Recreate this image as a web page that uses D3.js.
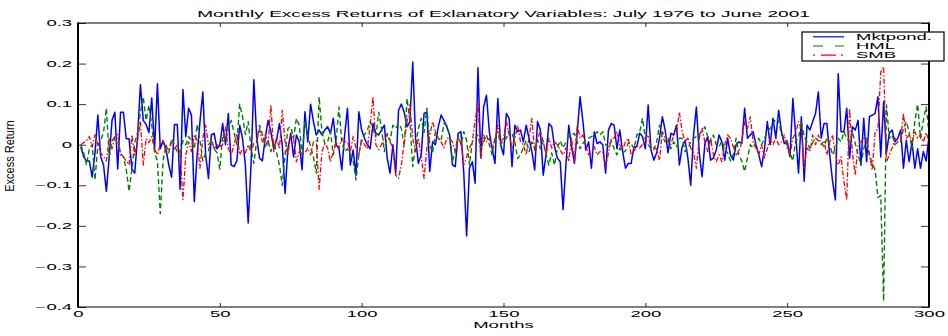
<!DOCTYPE html>
<html><head><meta charset="utf-8">
<script src="https://cdn.jsdelivr.net/npm/d3@7"></script>
<style>body{margin:0;background:#fff}</style>
</head><body>
<svg id="c" width="948" height="336"></svg>
<script>
const months = d3.range(1, 301);
const mkt = [
-0.005,-0.03,-0.04,-0.04,-0.08,-0.02,0.073,-0.03,-0.05,-0.115,
-0.03,0.06,0.08,-0.06,0.08,0.08,0.015,0.015,-0.06,-0.07,
0.02,0.148,0.06,0.05,0.03,0.115,-0.01,0.15,-0.01,0.01,
-0.01,-0.05,-0.08,0.05,0.05,-0.11,0.136,0.02,0.09,0.073,
-0.14,-0.025,0.057,0.13,-0.025,-0.083,0.024,0.028,-0.01,0,
0.052,0,0.077,-0.05,-0.054,-0.04,0.048,0.016,-0.05,-0.193,
-0.05,0.16,0.016,-0.033,-0.04,0.016,0.06,0.032,-0.01,0.012,
0.052,0,-0.12,-0.01,0.028,-0.03,0.024,0.007,-0.062,0.081,
0.007,0.1,0.057,0.024,0.036,0.024,0.036,0.044,0.028,0.065,
0,-0.01,-0.062,0.024,0.09,-0.05,-0.013,-0.075,0.081,0.036,
0.016,0,-0.01,0.052,0.028,0.024,0.036,0.048,-0.033,-0.07,
0,-0.07,0.085,0.1,0.08,0.044,0.057,0.204,0.016,-0.046,
-0.025,0.077,0.081,-0.066,0.007,0,0.044,0.073,0.06,0.044,
0.024,-0.05,-0.054,0.028,0.032,-0.07,-0.225,-0.058,-0.042,-0.095,
0.19,-0.033,0.093,0.122,0.032,-0.01,-0.046,0.114,0,-0.025,
0.077,0.065,-0.054,0.048,0.032,0.036,0.007,0.048,0.016,-0.017,
-0.062,0.057,0.036,-0.075,-0.025,0.052,0.044,-0.005,-0.033,-0.042,
-0.16,-0.05,0.048,-0.005,-0.046,0.032,0.118,0.057,-0.013,0.007,
-0.058,0.032,0.003,0.007,0,-0.07,0.036,0.052,0.048,-0.01,
0.036,-0.017,-0.058,-0.046,-0.046,-0.005,-0.005,0.028,0.02,-0.01,
0.098,-0.013,-0.038,-0.02,0.016,0.069,0.036,-0.02,0.028,0.024,
0.048,-0.05,-0.005,0.011,-0.033,-0.1,0.024,0.093,-0.02,-0.079,
0.003,0.02,-0.038,-0.033,-0.013,0.024,0.007,-0.038,0.016,-0.025,
-0.038,0,0.007,0.003,0.09,0.016,0.024,0.032,0,-0.025,
-0.054,-0.01,0.057,0,0.065,0.016,0.085,0.032,0.003,0.007,
-0.03,0.114,0.024,-0.07,0.069,-0.09,0.048,0.036,0.057,0.077,
0.13,0.016,0.052,0.052,-0.025,-0.09,-0.136,0.175,0.032,0.032,
0.09,-0.033,0.044,0.036,0.06,-0.05,0.065,-0.042,0.069,0.073,
0.077,0.118,-0.03,0.106,-0.02,0.028,0.036,0.007,0.016,0.036,
-0.058,0.011,-0.042,0.007,-0.058,-0.01,-0.058,-0.017,-0.04,0.02
];
const hml = [
0,-0.02,-0.05,-0.01,0,-0.087,0,0.01,0.03,0.09,
-0.03,0.01,0.02,0,-0.02,-0.03,-0.06,-0.115,-0.06,0.005,
0.03,0.08,0.118,0.06,0.097,0.05,-0.02,-0.04,-0.17,-0.04,
0,-0.02,0.015,0,-0.02,-0.03,0.01,0,0.02,0.01,
-0.01,0.05,0.01,-0.04,-0.02,-0.015,0.015,-0.01,-0.02,-0.06,
0.025,0.01,0.035,0.06,0.03,0,0.1,0.07,0.025,0.057,
-0.01,-0.046,0.01,0.048,0.025,-0.005,0.01,-0.017,0.008,-0.02,
-0.05,-0.1,-0.025,0.04,0.044,0.016,0.065,0.048,-0.025,0.057,
0.024,-0.005,-0.03,-0.07,0.118,0.032,0.003,0.007,0.032,-0.025,
0.01,0.093,0.007,-0.017,-0.01,-0.025,-0.04,-0.087,-0.025,0.016,
0.024,0.036,0.057,0.04,0.02,0.08,0.04,-0.017,0.028,0.01,
0.048,0.04,0.052,0.04,-0.005,0.114,0.057,-0.054,0,0.04,
0.065,0.03,0.09,0,-0.02,0.032,0.016,0.01,0.052,0.048,
0.024,-0.04,-0.017,0.024,0,0.032,0.01,-0.05,0.007,0.016,
0.024,-0.008,0.007,0.024,0,-0.025,0.02,0.032,0,0.01,
0.016,0.036,0.028,0.007,-0.034,-0.025,-0.008,0.01,-0.017,0.007,
-0.008,0.012,-0.01,0.01,-0.025,-0.05,-0.02,-0.05,-0.008,0.01,
-0.008,0.007,0.02,0.024,0.028,0.007,-0.01,0.003,0.012,0.016,
0.02,0.024,0.032,0.024,0.032,0,-0.005,0.01,-0.01,-0.025,
-0.008,-0.02,-0.015,0.005,0.003,-0.01,0.024,0.03,0.065,0.016,
0,-0.01,-0.013,0.007,0.048,0.02,0.007,0.016,-0.01,0.007,
-0.005,0.016,0.016,-0.017,-0.01,0.007,0.016,0.02,0.024,0.035,
0.044,0.02,0.007,0.024,0,-0.005,0.01,-0.012,-0.02,-0.04,
-0.025,0.016,-0.025,-0.04,-0.066,-0.033,0,-0.008,0.007,0.016,
0,0.016,0.032,0.04,0.05,0.065,0.06,0.024,0.016,0.01,
-0.02,-0.04,0.01,0.016,0.057,0.02,0.007,-0.01,0.005,0.016,
0.01,0.007,-0.005,0.016,0,-0.025,-0.008,0.016,0.007,0.032,
0.016,0.007,0.032,0.003,-0.025,-0.05,-0.01,0.016,-0.025,-0.045,
-0.062,-0.13,-0.125,-0.385,0.098,0.016,0.024,0,0.007,0.007,
0.04,0.057,0.032,-0.01,0.057,0.1,0.016,0.06,0.093,0.03
];
const smb = [
0,0.005,0.01,0.02,-0.005,0.025,0,-0.02,-0.03,-0.04,
0.015,-0.01,0.02,0.025,-0.025,-0.03,-0.04,-0.05,0.024,-0.025,
0.01,0.057,-0.05,0.015,0.005,0.02,-0.01,-0.025,0,0.01,
-0.02,-0.01,0.005,-0.01,0,-0.02,-0.135,-0.025,0.007,-0.017,
0.024,0.01,-0.058,0.016,0.048,0,0.007,-0.01,0,-0.005,
0,0.044,-0.01,-0.025,0,0.028,-0.025,-0.01,-0.02,0,
-0.017,0.003,0.007,0.04,0.007,0.024,0,0.098,-0.017,0.016,
-0.01,0.085,0.007,-0.025,0.024,0.016,-0.042,-0.017,-0.025,-0.02,
-0.008,-0.025,0.007,0.01,-0.11,-0.017,0.003,-0.008,-0.042,-0.017,
0.007,-0.008,0.016,0.007,0.007,-0.017,0.02,-0.008,-0.025,0.012,
0,-0.01,0.05,0.118,0,-0.012,0,0.016,0.024,0.007,
-0.008,-0.075,-0.083,-0.05,0.007,0.057,0.098,0.016,-0.017,0.016,
-0.03,-0.083,-0.008,0.024,0.057,0.032,0.016,0.007,-0.008,0.016,
0.016,0.007,-0.017,0.016,0.01,-0.05,-0.03,-0.008,0.007,0.06,
0.105,-0.033,0.024,0.007,0.016,-0.008,0.01,0.048,0.007,0.016,
0.057,0.024,-0.008,0.016,0.048,0.007,0,-0.025,0.016,0.065,
-0.017,0.016,0.032,0.007,-0.025,0.016,-0.008,0.007,0,-0.013,
-0.025,-0.008,-0.042,0.016,-0.042,0.048,0.016,0.024,0,-0.025,
-0.02,-0.005,-0.025,-0.017,-0.017,-0.054,-0.02,0.016,0.016,0.032,
0,-0.013,0.007,0.016,-0.025,-0.017,0,-0.008,0,0.016,
0.024,-0.008,-0.008,-0.01,-0.038,0.032,0.016,0.007,0,0.024,
0.03,0.08,0.032,0.007,0.016,-0.008,-0.02,-0.058,0.016,0.04,
0.007,-0.017,0.016,-0.025,-0.042,-0.025,-0.042,0,0.024,0.016,
-0.005,-0.025,-0.017,0.007,0.057,0.04,0.069,0.007,-0.008,-0.025,
0,-0.033,-0.01,0.016,0,0.016,0,0.007,0.024,-0.008,
-0.025,0.016,0.03,0.057,0.04,-0.058,-0.008,-0.017,0.024,0,
0.024,0,0.01,-0.025,0.007,0.024,-0.025,-0.05,-0.03,-0.09,
-0.136,0.09,-0.02,-0.075,0,0.007,0.016,0.007,-0.025,-0.062,
0.032,0.04,0.18,0.192,-0.042,-0.025,-0.008,0.016,0.007,0.01,
0.077,0.016,0.024,0.007,0.032,0.016,0.024,0.007,0.03,0.01
];
const xTicks = [0, 50, 100, 150, 200, 250, 300];
const yTicks = [-0.4, -0.3, -0.2, -0.1, 0, 0.1, 0.2, 0.3];
const seriesNames = ["Mktpond.", "HML", "SMB"];
const titleText = "Monthly Excess Returns of Exlanatory Variables: July 1976 to June 2001";
const xLabelText = "Months";
const yLabelText = "Excess Return";

const L = 78, R = 929, T = 23, B = 307;
const SX = 2.2, FS = 8.4;
const FONT = "'Liberation Sans', Arial, Helvetica, sans-serif";
const svg = d3.select("#c");
const x = d3.scaleLinear().domain([0, 300]).range([L, R]);
const y = d3.scaleLinear().domain([-0.4, 0.3]).range([B, T]);

function stxt(px, py, str, anchor, sx) {
  return svg.append("text")
    .attr("transform", `translate(${px},${py}) scale(${sx || SX},1)`)
    .attr("text-anchor", anchor)
    .attr("font-family", FONT).attr("font-size", FS).attr("fill", "#000")
    .text(str);
}

svg.append("defs").append("clipPath").attr("id", "clip")
  .append("rect").attr("x", L).attr("y", T).attr("width", R - L).attr("height", B - T);

const series = [
  { name: seriesNames[0], data: mkt, color: "#0000ff", width: 1.5, dash: null, legDash: null },
  { name: seriesNames[1], data: hml, color: "#008000", width: 1.4, dash: "5,3", legDash: "10,12" },
  { name: seriesNames[2], data: smb, color: "#ff0000", width: 1.3, dash: "5,2,1.5,2", legDash: "2,6,15,5,2" }
];

const line = d3.line().x((d, i) => x(months[i])).y(d => y(d));
const plot = svg.append("g").attr("clip-path", "url(#clip)");
series.forEach(s => {
  plot.append("path").attr("d", line(s.data))
    .attr("fill", "none").attr("stroke", s.color).attr("stroke-width", s.width)
    .attr("stroke-linejoin", "round")
    .attr("stroke-dasharray", s.dash);
});

const fmt = d => d === 0 ? "0" : d3.format(".1f")(d);

function styleAxis(g) {
  g.attr("font-family", FONT).attr("font-size", FS);
  g.select(".domain").remove();
  g.selectAll(".tick line").attr("stroke", "#333").attr("stroke-width", 1);
  g.selectAll(".tick text").attr("fill", "#000");
}

const gb = svg.append("g").attr("transform", `translate(0,${B})`)
  .call(d3.axisBottom(x).tickValues(xTicks).tickSizeInner(-4).tickSizeOuter(0).tickPadding(4).tickFormat(d3.format("d")));
styleAxis(gb);
gb.selectAll(".tick text").attr("transform", `scale(${SX},1)`);
const gt = svg.append("g").attr("transform", `translate(0,${T})`)
  .call(d3.axisTop(x).tickValues(xTicks).tickSizeInner(-4).tickSizeOuter(0).tickFormat(""));
styleAxis(gt);
const gl = svg.append("g").attr("transform", `translate(${L},0)`)
  .call(d3.axisLeft(y).tickValues(yTicks).tickSizeInner(-8).tickSizeOuter(0).tickPadding(2.7).tickFormat(fmt));
styleAxis(gl);
gl.selectAll(".tick text").attr("transform", `scale(${SX},1)`);
const gr = svg.append("g").attr("transform", `translate(${R},0)`)
  .call(d3.axisRight(y).tickValues(yTicks).tickSizeInner(-8).tickSizeOuter(0).tickFormat(""));
styleAxis(gr);

svg.append("line").attr("x1", L).attr("x2", R).attr("y1", T).attr("y2", T).attr("stroke", "#000").attr("stroke-width", 1);
svg.append("line").attr("x1", L).attr("x2", R).attr("y1", B).attr("y2", B).attr("stroke", "#000").attr("stroke-width", 1);
svg.append("line").attr("x1", L).attr("x2", L).attr("y1", T - 0.5).attr("y2", B + 0.5).attr("stroke", "#000").attr("stroke-width", 2);
svg.append("line").attr("x1", R).attr("x2", R).attr("y1", T - 0.5).attr("y2", B + 0.5).attr("stroke", "#000").attr("stroke-width", 2);

stxt((L + R) / 2, 17, titleText, "middle", 2.27);
stxt((L + R) / 2, 328, xLabelText, "middle");
svg.append("text")
  .attr("transform", `translate(14,156) scale(1.1,1) rotate(-90)`)
  .attr("text-anchor", "middle")
  .attr("font-family", FONT).attr("font-size", 11).attr("fill", "#000")
  .text(yLabelText);

const lg = svg.append("g");
lg.append("rect").attr("x", 802).attr("y", 32).attr("width", 142).attr("height", 29)
  .attr("fill", "#fff").attr("stroke", "#000").attr("stroke-width", 1.2);
series.forEach((s, i) => {
  const cy = 36.8 + i * 9.2;
  lg.append("line").attr("x1", 813).attr("x2", 844).attr("y1", cy).attr("y2", cy)
    .attr("stroke", s.color).attr("stroke-width", 1.2).attr("stroke-dasharray", s.legDash);
  stxt(856, cy + 3, s.name, "start");
});
</script>
</body></html>
